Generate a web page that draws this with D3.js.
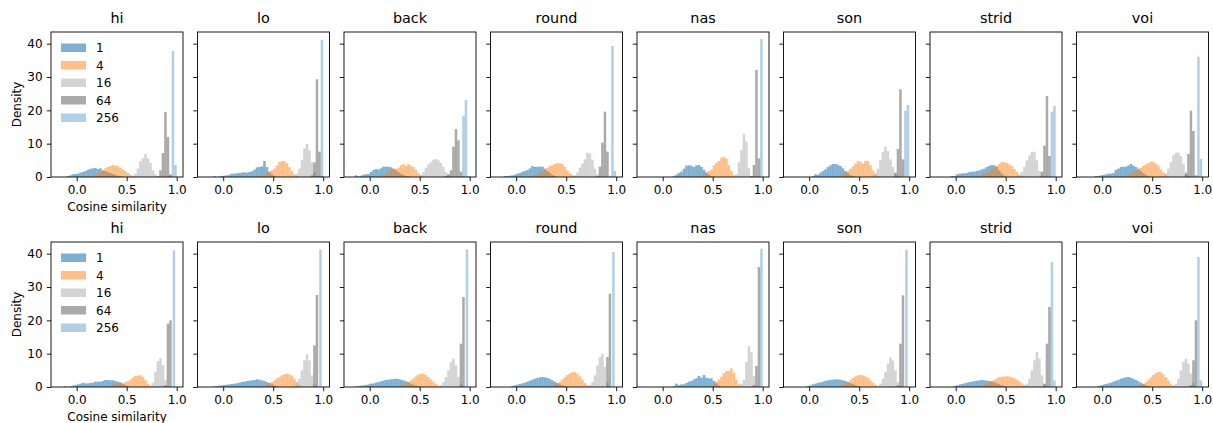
<!DOCTYPE html>
<html><head><meta charset="utf-8">
<script src="https://cdn.jsdelivr.net/npm/d3@7"></script>
<style>
body{margin:0;background:#fff;}
text{font-family:"DejaVu Sans",sans-serif;fill:#000;}
</style></head>
<body><svg id="c" width="1213" height="423"></svg>
<script>
const panelNames = ["hi","lo","back","round","nas","son","strid","voi"];
const seriesLabels = ["1","4","16","64","256"];
const seriesColors = ["#1f77b4","#ff7f0e","#a9a9a9","#555555","#1f77b4"];
const seriesOpacity = [0.58,0.5,0.5,0.5,0.35];
const binWidth = 0.025;
const xTicks = [0, 0.5, 1.0];
const yTicks = [0, 10, 20, 30, 40];
const xLabel = "Cosine similarity";
const yLabel = "Density";

// each series: [first bin start, densities]
const row1_hi = [
  [-0.1,[0.3,0.5,0.8,0.9,1.0,1.3,1.5,1.8,2.2,2.5,2.6,2.7,2.4,2.6,2.0,1.8,1.4,1.2,0.9,0.6,0.4,0.3,0.1]],
  [0.15,[0.3,0.6,1.0,1.5,2.0,2.6,3.0,3.3,3.6,3.4,3.3,2.8,2.3,1.8,1.2,0.7,0.4,0.2]],
  [0.575,[1.0,2.5,4.8,5.6,6.9,5.6,4.2,2.0,0.8]],
  [0.8,[0.3,2.0,7.2,19.5,12.0,0.8]],
  [0.925,[0.5,37.8,3.6]]
];
const row1_lo = [
  [-0.1,[0.3,0,0.2,0.3,0.4,0.5,0.7,1.0,1.0,1.1,1.2,1.3,1.4,1.3,1.5,1.7,2.2,2.9,3.0,3.2,4.8,3.0,1.6,0.8,0.3]],
  [0.35,[0.3,0.5,0.8,1.0,1.5,2.0,2.5,3.5,4.5,4.8,4.8,4.2,3.0,1.8,0.8,0.3]],
  [0.7,[0.3,1.0,2.5,5.0,8.5,9.9,8.0,4.5,1.5,0.3]],
  [0.875,[0.5,4.4,29.3,7.6,0.3]],
  [0.95,[0.3,41.1]]
];
const row1_back = [
  [-0.15,[0.5,0.2,0.4,0.7,0.8,0.9,1.5,2.1,2.4,2.3,2.6,3.1,3.1,3.1,2.9,2.5,2.0,1.5,1.0,0.6,0.3,0.2]],
  [0.1,[0.3,0.6,1.0,1.5,2.0,2.5,2.5,2.8,3.5,3.9,3.3,3.9,3.4,3.0,2.2,1.2,0.6,0.2]],
  [0.5,[0.5,1.5,2.8,3.8,4.5,5.2,5.4,5.0,4.3,3.0,1.5,0.6]],
  [0.75,[0.3,0.8,2.0,9.1,14.4,11.0,1.6,0.3]],
  [0.925,[18.3,23.1,0.3]]
];
const row1_round = [
  [-0.125,[0.3,0.3,0.4,0.5,0.7,1.0,1.2,1.6,1.8,2.1,2.6,3.3,3.0,3.1,3.1,3.1,2.5,1.8,1.2,0.6,0.3]],
  [0.15,[0.3,0.5,0.8,1.1,1.5,2.0,2.8,3.3,3.5,3.9,4.2,4.1,3.9,3.0,2.0,1.2,0.6,0.3,0.1]],
  [0.575,[0.5,1.3,2.8,4.0,5.3,7.3,7.0,5.2,2.5,0.8]],
  [0.8,[0.3,3.1,10.3,19.6,7.6]],
  [0.925,[0.4,39.3,1.8]]
];
const row1_nas = [
  [0.1,[0.3,0.7,1.2,1.6,2.5,3.4,3.5,3.4,3.0,3.5,3.6,3.0,2.2,1.4,0.7,0.2]],
  [0.35,[0.2,0.4,0.7,1.2,1.8,2.2,3.5,4.3,4.8,5.8,6.1,5.5,3.5,1.8,0.6,0.2]],
  [0.725,[0.8,4.4,8.1,12.9,10.6,2.6,0.3]],
  [0.875,[0.3,3.6,32.1,5.6]],
  [0.95,[0.3,41.4]]
];
const row1_son = [
  [0.025,[0.3,0.8,0.7,1.3,1.8,2.3,3.0,3.5,3.9,3.9,3.7,3.3,2.6,1.8,1.2,0.6,0.3]],
  [0.275,[0.2,0.4,0.8,1.2,1.8,2.5,3.2,4.0,4.8,4.6,4.0,4.8,4.8,3.5,2.0,1.0,0.3]],
  [0.625,[0.3,1.0,2.5,5.0,7.5,9.1,7.8,5.3,3.0,1.0,0.3]],
  [0.85,[1.3,8.4,26.3,5.3]],
  [0.95,[19.9,21.6]]
];
const row1_strid = [
  [-0.05,[0.3,0.3,0.8,1.0,1.1,1.1,1.2,1.5,1.6,1.6,1.8,2.0,2.3,2.5,3.0,3.4,3.6,3.5,3.0,2.0,1.0,0.4]],
  [0.2,[0.2,0.4,0.6,1.0,1.3,1.7,2.2,2.7,3.3,3.9,4.5,4.4,4.2,3.8,3.2,2.4,1.5,0.7,0.3]],
  [0.625,[0.5,1.5,3.0,5.0,6.5,7.5,7.6,5.0,1.8,0.5]],
  [0.85,[1.6,9.4,24.3,6.3]],
  [0.95,[19.6,21.3]]
];
const row1_voi = [
  [-0.075,[0.3,0.3,0.5,0.6,0.8,1.0,1.0,1.2,2.1,2.5,3.0,3.1,3.1,3.5,3.9,3.4,3.0,2.5,1.8,1.2,0.6,0.3]],
  [0.2,[0.2,0.4,0.7,1.0,1.4,1.8,2.3,2.8,3.3,3.8,4.2,4.6,4.5,4.0,3.2,2.3,1.4,0.7,0.3]],
  [0.6,[0.3,1.0,2.5,4.5,6.5,7.3,7.3,6.2,4.0,1.5,0.4]],
  [0.825,[1.0,6.9,19.9,13.8,0.5]],
  [0.95,[36.1,5.4]]
];
const row2_hi = [
  [-0.125,[0.3,0,0.2,0.4,0.6,0.8,1.0,1.3,1.1,1.1,1.2,1.3,1.6,1.6,1.6,1.8,2.1,2.1,2.0,2.0,1.8,1.6,1.4,1.0,0.6,0.3,0.1]],
  [0.325,[0.3,0.5,0.8,1.0,1.1,1.1,1.4,1.8,2.2,2.8,3.4,3.4,3.5,3.1,2.1,1.0,0.4,0.1]],
  [0.725,[0.3,1.3,4.6,7.8,8.6,6.6,2.0]],
  [0.875,[0.5,19.0,20.0]],
  [0.96,[41.0]]
];
const row2_lo = [
  [-0.1,[0.2,0.3,0.4,0.5,0.6,0.7,0.8,0.9,1.0,1.1,1.3,1.5,1.6,1.8,1.9,2.0,2.1,2.3,2.2,2.0,1.8,1.5,1.2,0.8,0.5,0.2]],
  [0.4,[0.3,0.6,1.0,1.5,2.0,2.6,3.0,3.5,3.8,4.0,3.8,3.4,2.5,1.5,0.6,0.2]],
  [0.7,[0.3,1.0,2.5,5.0,8.0,9.8,8.0,3.5,0.8]],
  [0.9,[12.5,27.6]],
  [0.96,[41.2]]
];
const row2_back = [
  [-0.15,[0.2,0.3,0.4,0.5,0.6,0.8,1.0,1.1,1.3,1.5,1.7,1.9,2.1,2.2,2.3,2.4,2.5,2.4,2.2,2.0,1.7,1.4,1.0,0.7,0.4,0.2]],
  [0.3,[0.3,0.6,1.0,1.5,2.0,2.6,3.2,3.7,4.0,3.9,3.6,3.0,2.3,1.6,0.9,0.4,0.2]],
  [0.7,[0.5,1.5,3.0,5.0,7.5,8.5,6.5,3.0,0.8]],
  [0.9,[13.0,27.0]],
  [0.96,[41.3]]
];
const row2_round = [
  [-0.05,[0.3,0.5,0.7,0.9,1.1,1.3,1.6,1.9,2.2,2.5,2.7,2.9,3.0,2.9,2.7,2.4,2.0,1.6,1.2,0.8,0.5,0.3]],
  [0.35,[0.3,0.6,1.0,1.6,2.3,3.0,3.6,4.1,4.5,4.4,4.0,3.2,2.2,1.2,0.5,0.2]],
  [0.725,[0.5,1.5,3.5,6.5,9.0,10.0,6.0,1.5]],
  [0.9,[9.0,28.0]],
  [0.96,[40.5]]
];
const row2_nas = [
  [0.1,[0.3,1.0,0.5,0.8,0.8,1.2,1.6,1.8,2.3,2.6,3.3,2.8,3.6,2.8,2.6,2.6,1.8,1.1,0.4]],
  [0.475,[0.3,0.8,1.6,2.3,3.1,4.1,4.8,4.8,5.6,4.3,2.1,0.8,0.2]],
  [0.775,[1.0,2.1,7.5,12.3,10.4,3.3]],
  [0.9,[0.5,6.3,36.0]],
  [0.975,[41.5]]
];
const row2_son = [
  [-0.025,[0.3,0.5,0.8,1.0,1.2,1.4,1.6,1.8,2.0,2.1,2.2,2.3,2.3,2.2,2.0,1.8,1.5,1.2,0.9,0.6,0.3]],
  [0.3,[0.3,0.6,1.0,1.5,2.1,2.7,3.2,3.5,3.6,3.5,3.2,2.7,2.0,1.3,0.7,0.3]],
  [0.675,[0.3,1.0,2.5,4.5,7.0,8.8,8.0,5.0,1.5,0.3]],
  [0.875,[0.5,13.0,27.5]],
  [0.96,[41.2]]
];
const row2_strid = [
  [-0.025,[0.3,0.5,0.7,0.9,1.1,1.3,1.5,1.6,1.8,1.9,2.0,2.1,2.0,1.9,1.8,1.6,1.4,1.1,0.8,0.5,0.3]],
  [0.25,[0.3,0.6,1.0,1.4,1.8,2.2,2.6,2.9,3.1,3.2,3.2,3.1,2.9,2.6,2.2,1.7,1.1,0.6,0.3]],
  [0.675,[0.3,1.0,2.5,5.0,8.0,10.5,8.5,3.5,0.8]],
  [0.875,[1.0,13.0,24.0]],
  [0.95,[37.5,2.0]]
];
const row2_voi = [
  [-0.05,[0.3,0.5,0.7,0.9,1.1,1.3,1.6,1.9,2.2,2.5,2.7,2.9,3.0,2.8,2.5,2.1,1.7,1.3,0.9,0.5,0.3]],
  [0.35,[0.3,0.6,1.0,1.5,2.2,2.9,3.6,4.2,4.6,4.4,3.8,2.9,1.9,1.0,0.4]],
  [0.7,[0.3,1.0,2.5,5.0,7.5,8.5,7.0,4.0,1.2]],
  [0.875,[0.5,8.0,20.0]],
  [0.95,[39.0,2.0]]
];
const rows = [
  [row1_hi,row1_lo,row1_back,row1_round,row1_nas,row1_son,row1_strid,row1_voi],
  [row2_hi,row2_lo,row2_back,row2_round,row2_nas,row2_son,row2_strid,row2_voi]
];

const svg = d3.select("#c");
const left0 = 51, step = 146.5, pw = 132, ph = 145;
const rowTops = [32, 242];
const x = d3.scaleLinear().domain([-0.257, 1.063]).range([0, pw]);
const y = d3.scaleLinear().domain([0, 43.5]).range([ph, 0]);

rows.forEach((row, r) => {
  row.forEach((panel, p) => {
    const g = svg.append("g").attr("transform", `translate(${left0 + p*step},${rowTops[r]})`);
    const clipId = `clip${r}_${p}`;
    g.append("clipPath").attr("id", clipId).append("rect").attr("width", pw).attr("height", ph);
    const bars = g.append("g").attr("clip-path", `url(#${clipId})`);
    panel.forEach((s, si) => {
      const [start, dens] = s;
      const bins = dens.map((d, i) => ({x0: start + i*binWidth, d}));
      bars.selectAll(null).data(bins.filter(b => b.d > 0)).enter().append("rect")
        .attr("x", b => x(b.x0))
        .attr("width", x(binWidth) - x(0))
        .attr("y", b => y(b.d))
        .attr("height", b => y(0) - y(b.d))
        .attr("fill", seriesColors[si])
        .attr("fill-opacity", seriesOpacity[si]);
    });
    const xa = d3.axisBottom(x).tickValues(xTicks).tickFormat(d3.format(".1f")).tickSize(4.2).tickPadding(4.2);
    const ya = d3.axisLeft(y).tickValues(yTicks).tickSize(4.2).tickPadding(4.2);
    if (p > 0) ya.tickFormat("");
    const gx = g.append("g").attr("transform", `translate(0,${ph})`).call(xa);
    const gy = g.append("g").call(ya);
    [gx, gy].forEach(a => {
      a.select(".domain").remove();
      a.selectAll(".tick line").attr("stroke", "#000").attr("stroke-width", 0.9);
      a.selectAll(".tick text").attr("font-size", 12).attr("font-family", "DejaVu Sans");
    });
    g.append("rect").attr("width", pw).attr("height", ph)
      .attr("fill", "none").attr("stroke", "#000").attr("stroke-width", 0.9);
    g.append("text").attr("x", pw/2).attr("y", -9).attr("text-anchor", "middle")
      .attr("font-size", 14.4).text(panelNames[p]);
    if (p === 0) {
      g.append("text").attr("x", pw/2).attr("y", ph + 34).attr("text-anchor", "middle")
        .attr("font-size", 12).text(xLabel);
      g.append("text").attr("transform", `translate(-30.5,${ph/2}) rotate(-90)`)
        .attr("text-anchor", "middle").attr("font-size", 12).text(yLabel);
      const lg = g.append("g").attr("transform", "translate(10,11.5)");
      seriesLabels.forEach((lab, i) => {
        lg.append("rect").attr("x", 0).attr("y", i*17.5).attr("width", 25).attr("height", 8.5)
          .attr("fill", seriesColors[i]).attr("fill-opacity", seriesOpacity[i]);
        lg.append("text").attr("x", 35).attr("y", i*17.5 + 8.7).attr("font-size", 12).text(lab);
      });
    }
  });
});
</script></body></html>
